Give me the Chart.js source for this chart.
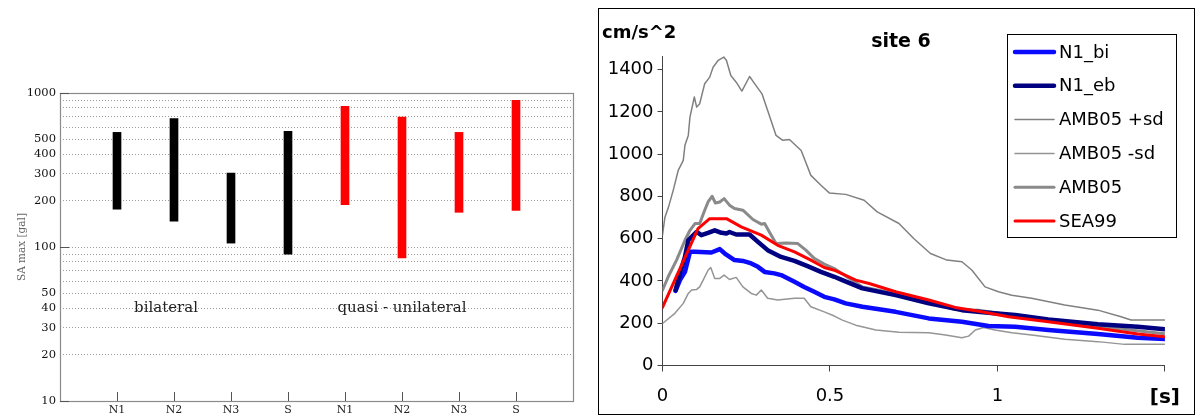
<!DOCTYPE html>
<html>
<head>
<meta charset="utf-8">
<title>SA max / site 6</title>
<script src="https://cdn.jsdelivr.net/npm/chart.js@4.4.1/dist/chart.umd.min.js"></script>
<style>
    html, body { margin: 0; padding: 0; background: #fff; }
    body { width: 1195px; height: 417px; position: relative; overflow: hidden; }
    #leftWrap  { position: absolute; left: 0; top: 0; width: 595px; height: 417px; }
    #rightWrap { position: absolute; left: 598px; top: 8px; width: 595px; height: 405px; border: 1px solid #000; }
</style>
</head>
<body>
<div id="leftWrap"><canvas id="saChart"></canvas></div>
<div id="rightWrap"><canvas id="siteChart"></canvas></div>

<script>
'use strict';

// ── Left chart: SA max ranges per case ─────────────────────
const caseLabels    = ['N1', 'N2', 'N3', 'S', 'N1', 'N2', 'N3', 'S'];
const bilateralPos  = [1, 2, 3, 4];
const bilateralLow  = [176, 147, 106, 90];
const bilateralHigh = [555, 681, 302, 563];
const quasiPos      = [5, 6, 7, 8];
const quasiLow      = [188, 85, 168, 173];
const quasiHigh     = [819, 698, 555, 896];
const saTickLabels  = [10, 20, 30, 40, 50, 100, 200, 300, 400, 500, 1000];
const saGridValues  = [10, 20, 30, 40, 50, 60, 70, 80, 90,
                       100, 200, 300, 400, 500, 600, 700, 800, 900, 1000];
const groupNotes    = ['bilateral', 'quasi - unilateral'];
const groupNoteX    = [1.86, 6.0];
const groupNoteY    = [40, 40];

// ── Right chart: spectra for site 6 (period [s] / cm/s^2) ──
const n1biT = [0.039, 0.052, 0.067, 0.082, 0.097, 0.146, 0.171, 0.186, 0.215, 0.24, 0.265, 0.285,
               0.305, 0.334, 0.354, 0.394, 0.423, 0.453, 0.483, 0.513, 0.547, 0.597, 0.696, 0.795,
               0.894, 0.973, 1.053, 1.152, 1.3, 1.419, 1.5];
const n1biV = [353, 404, 443, 538, 538, 535, 551, 530, 499, 495, 483, 467,
               443, 436, 428, 396, 372, 349, 325, 313, 294, 278, 254, 223,
               207, 187, 183, 168, 149, 131, 125];

const n1ebT = [0.039, 0.052, 0.067, 0.077, 0.087, 0.102, 0.116, 0.136, 0.156, 0.176, 0.191, 0.2,
               0.22, 0.26, 0.285, 0.314, 0.354, 0.394, 0.433, 0.473, 0.513, 0.537, 0.597, 0.696,
               0.795, 0.894, 0.973, 1.053, 1.152, 1.3, 1.419, 1.5];
const n1ebV = [357, 436, 514, 593, 609, 632, 617, 628, 640, 628, 625, 632,
               620, 620, 585, 546, 514, 495, 470, 443, 420, 404, 365, 333,
               294, 262, 250, 239, 218, 195, 183, 172];

const ambPlusT = [0, 0.007, 0.017, 0.032, 0.047, 0.062, 0.067, 0.077, 0.082, 0.095, 0.102, 0.111,
                  0.126, 0.141, 0.151, 0.166, 0.183, 0.191, 0.204, 0.22, 0.237, 0.26, 0.275, 0.297,
                  0.314, 0.339, 0.359, 0.379, 0.414, 0.443, 0.473, 0.498, 0.547, 0.602, 0.641, 0.706,
                  0.75, 0.8, 0.849, 0.894, 0.924, 0.963, 1.003, 1.043, 1.102, 1.201, 1.3, 1.369,
                  1.399, 1.5];
const ambPlusV = [617, 700, 745, 829, 924, 971, 1042, 1089, 1176, 1271, 1223, 1239,
                  1334, 1365, 1412, 1444, 1460, 1444, 1373, 1341, 1299, 1368, 1334, 1286,
                  1207, 1089, 1066, 1070, 1018, 900, 853, 817, 810, 782, 727, 672,
                  601, 530, 499, 491, 451, 372, 349, 333, 318, 286, 262, 231,
                  215, 215];

const ambMinusT = [0, 0.037, 0.062, 0.077, 0.087, 0.102, 0.111, 0.124, 0.136, 0.144, 0.156, 0.171,
                   0.184, 0.2, 0.22, 0.24, 0.265, 0.28, 0.295, 0.314, 0.344, 0.394, 0.423, 0.443,
                   0.483, 0.513, 0.537, 0.577, 0.637, 0.706, 0.795, 0.845, 0.894, 0.914, 0.934, 0.958,
                   0.993, 1.043, 1.102, 1.201, 1.3, 1.38, 1.5];
const ambMinusV = [199, 247, 294, 341, 357, 360, 372, 412, 451, 464, 412, 412,
                   428, 407, 417, 372, 341, 333, 357, 318, 310, 318, 318, 278,
                   254, 234, 215, 191, 168, 157, 155, 144, 131, 139, 168, 180,
                   168, 155, 144, 124, 113, 100, 100];

const ambT = [0, 0.017, 0.042, 0.067, 0.082, 0.097, 0.111, 0.126, 0.136, 0.148, 0.158, 0.171,
              0.184, 0.2, 0.215, 0.24, 0.27, 0.295, 0.305, 0.319, 0.339, 0.369, 0.404, 0.428,
              0.453, 0.483, 0.513, 0.597, 0.696, 0.795, 0.874, 0.944, 1.033, 1.152, 1.3, 1.5];
const ambV = [357, 420, 499, 593, 640, 672, 672, 735, 774, 801, 769, 774,
              790, 759, 743, 735, 691, 669, 672, 632, 577, 580, 577, 546,
              507, 480, 459, 372, 341, 300, 265, 262, 240, 212, 185, 150];

const sea99T = [0, 0.106, 0.141, 0.191, 0.235, 0.295, 0.344, 0.394, 0.443, 0.483, 0.513,
                0.577, 0.617, 0.696, 0.795, 0.874, 0.953, 1.033, 1.152, 1.3, 1.419, 1.5];
const sea99V = [275, 648, 695, 695, 656, 617, 569, 538, 499, 464, 451,
                404, 388, 349, 310, 275, 254, 231, 207, 176, 149, 136];

const accelTicks  = [0, 200, 400, 600, 800, 1000, 1200, 1400];
const periodTicks = [0, 0.5, 1, 1.5];

Chart.defaults.font.family = 'DejaVu Sans';
Chart.defaults.animation = false;

const pairs = (xs, ys) => xs.map((x, i) => ({ x, y: ys[i] }));

// ======================================================
//  LEFT CHART
// ======================================================
const leftFrame = {
    id: 'leftFrame',
    afterDraw(chart) {
        const { ctx, chartArea: { left, top, right, bottom }, scales: { x, y } } = chart;
        ctx.save();
        ctx.strokeStyle = '#8a8a8a';
        ctx.lineWidth = 1.2;
        ctx.strokeRect(left + 0.5, top + 0.5, right - left, bottom - top);

        // inward tick marks
        ctx.strokeStyle = '#555';
        ctx.lineWidth = 1;
        ctx.beginPath();
        caseLabels.forEach((_, i) => {
            const px = Math.round(x.getPixelForValue(i + 1)) + 0.5;
            ctx.moveTo(px, bottom);
            ctx.lineTo(px, bottom - 9);
        });
        [10, 100, 1000].forEach(v => {
            const py = Math.round(y.getPixelForValue(v)) + 0.5;
            ctx.moveTo(left, py);
            ctx.lineTo(left + 9, py);
        });
        ctx.stroke();

        // group notes
        ctx.fillStyle = '#222';
        ctx.font = '15px "DejaVu Serif"';
        ctx.textAlign = 'center';
        ctx.textBaseline = 'middle';
        groupNotes.forEach((t, i) => {
            ctx.fillText(t, x.getPixelForValue(groupNoteX[i]), y.getPixelForValue(groupNoteY[i]));
        });
        ctx.restore();
    }
};

new Chart(document.getElementById('saChart'), {
    type: 'bar',
    data: {
        datasets: [{
            label: 'bilateral',
            data: bilateralPos.map((p, i) => ({ x: p, y: [bilateralLow[i], bilateralHigh[i]] })),
            backgroundColor: '#000',
            barThickness: 8,
            grouped: false,
        }, {
            label: 'quasi - unilateral',
            data: quasiPos.map((p, i) => ({ x: p, y: [quasiLow[i], quasiHigh[i]] })),
            backgroundColor: '#ff0000',
            barThickness: 8,
            grouped: false,
        }]
    },
    options: {
        responsive: true,
        maintainAspectRatio: false,
        layout: { padding: { left: 0, top: 93, right: 22, bottom: 0 } },
        plugins: { legend: { display: false }, tooltip: { enabled: false } },
        scales: {
            x: {
                type: 'linear', min: 0, max: 9, offset: false,
                afterBuildTicks: s => { s.ticks = caseLabels.map((_, i) => ({ value: i + 1 })); },
                ticks: {
                    callback: v => caseLabels[v - 1] || '',
                    font: { family: 'DejaVu Serif', size: 11 },
                    color: '#222', padding: 3, autoSkip: false, maxRotation: 0
                },
                grid: { display: false, drawTicks: false, offset: false },
                border: { display: false },
                afterFit: s => { s.height = 16; }
            },
            y: {
                type: 'logarithmic', min: 10, max: 1000,
                afterBuildTicks: s => { s.ticks = saGridValues.map(v => ({ value: v })); },
                ticks: {
                    callback: v => saTickLabels.includes(v) ? String(v) : '',
                    font: { family: 'DejaVu Serif', size: 11.5 },
                    color: '#111', padding: 4, autoSkip: false
                },
                grid: { color: '#9a9a9a', lineWidth: 1, drawTicks: false },
                border: { display: false, dash: [1, 2] },
                title: {
                    display: true, text: 'SA max [gal]',
                    font: { family: 'DejaVu Serif', size: 10.5 },
                    color: '#666', padding: { top: 16, bottom: 0 }
                },
                afterFit: s => { s.width = 60; }
            }
        }
    },
    plugins: [leftFrame]
});

// ======================================================
//  RIGHT CHART
// ======================================================
const siteDecor = {
    id: 'siteDecor',
    afterDraw(chart) {
        const { ctx } = chart;
        ctx.save();
        ctx.fillStyle = '#000';
        ctx.textBaseline = 'middle';
        ctx.font = 'bold 18px "DejaVu Sans"';
        ctx.textAlign = 'left';
        ctx.fillText('cm/s^2', 3, 24);
        ctx.font = 'bold 19px "DejaVu Sans"';
        ctx.textAlign = 'center';
        ctx.fillText('site 6', 302, 33);

        // legend box
        const bx = 408, by = 25, bw = 169, bh = 203;
        ctx.fillStyle = '#fff';
        ctx.fillRect(bx, by, bw, bh);
        ctx.strokeStyle = '#000';
        ctx.lineWidth = 1;
        ctx.strokeRect(bx + 0.5, by + 0.5, bw, bh);
        ctx.font = '18px "DejaVu Sans"';
        ctx.textAlign = 'left';
        chart.data.datasets.forEach((ds, i) => {
            const ry = 43 + i * 33.8;
            ctx.strokeStyle = ds.borderColor;
            ctx.lineWidth = ds.borderWidth;
            ctx.lineCap = 'round';
            ctx.beginPath();
            ctx.moveTo(416, ry);
            ctx.lineTo(455, ry);
            ctx.stroke();
            ctx.fillStyle = '#000';
            ctx.fillText(ds.label, 460, ry + 1);
        });
        ctx.restore();
    }
};

const lineStyle = { pointRadius: 0, tension: 0, fill: false, borderJoinStyle: 'round', borderCapStyle: 'round' };

new Chart(document.getElementById('siteChart'), {
    type: 'line',
    data: {
        datasets: [
            { label: 'N1_bi',     data: pairs(n1biT, n1biV),         borderColor: '#0a0aff', borderWidth: 4.5, order: 3, ...lineStyle },
            { label: 'N1_eb',     data: pairs(n1ebT, n1ebV),         borderColor: '#000080', borderWidth: 4.5, order: 2, ...lineStyle },
            { label: 'AMB05 +sd', data: pairs(ambPlusT, ambPlusV),   borderColor: '#808080', borderWidth: 1.5, order: 6, ...lineStyle },
            { label: 'AMB05 -sd', data: pairs(ambMinusT, ambMinusV), borderColor: '#959595', borderWidth: 1.5, order: 5, ...lineStyle },
            { label: 'AMB05',     data: pairs(ambT, ambV),           borderColor: '#8a8a8a', borderWidth: 3,   order: 4, ...lineStyle },
            { label: 'SEA99',     data: pairs(sea99T, sea99V),       borderColor: '#ff0000', borderWidth: 3,   order: 1, ...lineStyle },
        ]
    },
    options: {
        responsive: true,
        maintainAspectRatio: false,
        layout: { padding: { left: 0, top: 47, right: 25, bottom: 0 } },
        plugins: { legend: { display: false }, tooltip: { enabled: false } },
        scales: {
            x: {
                type: 'linear', min: 0, max: 1.5,
                afterBuildTicks: s => { s.ticks = periodTicks.map(v => ({ value: v })); },
                ticks: {
                    callback: v => v === 1.5 ? '[s]' : String(v),
                    font: c => (c.tick && c.tick.value === 1.5)
                        ? { family: 'DejaVu Sans', size: 20, weight: 'bold' }
                        : { family: 'DejaVu Sans', size: 18 },
                    color: '#000', padding: 14, autoSkip: false, maxRotation: 0
                },
                grid: { drawOnChartArea: false, tickLength: 6, color: '#444' },
                border: { color: '#444' },
                afterFit: s => { s.height = 48.5; }
            },
            y: {
                type: 'linear', min: 0, max: 1465,
                afterBuildTicks: s => { s.ticks = accelTicks.map(v => ({ value: v })); },
                ticks: {
                    callback: v => String(v),
                    font: { family: 'DejaVu Sans', size: 18 },
                    color: '#000', padding: 4, autoSkip: false
                },
                grid: { drawOnChartArea: false, tickLength: 5, color: '#444' },
                border: { color: '#444' },
                afterFit: s => { s.width = 63.5; }
            }
        }
    },
    plugins: [siteDecor]
});
</script>
</body>
</html>
